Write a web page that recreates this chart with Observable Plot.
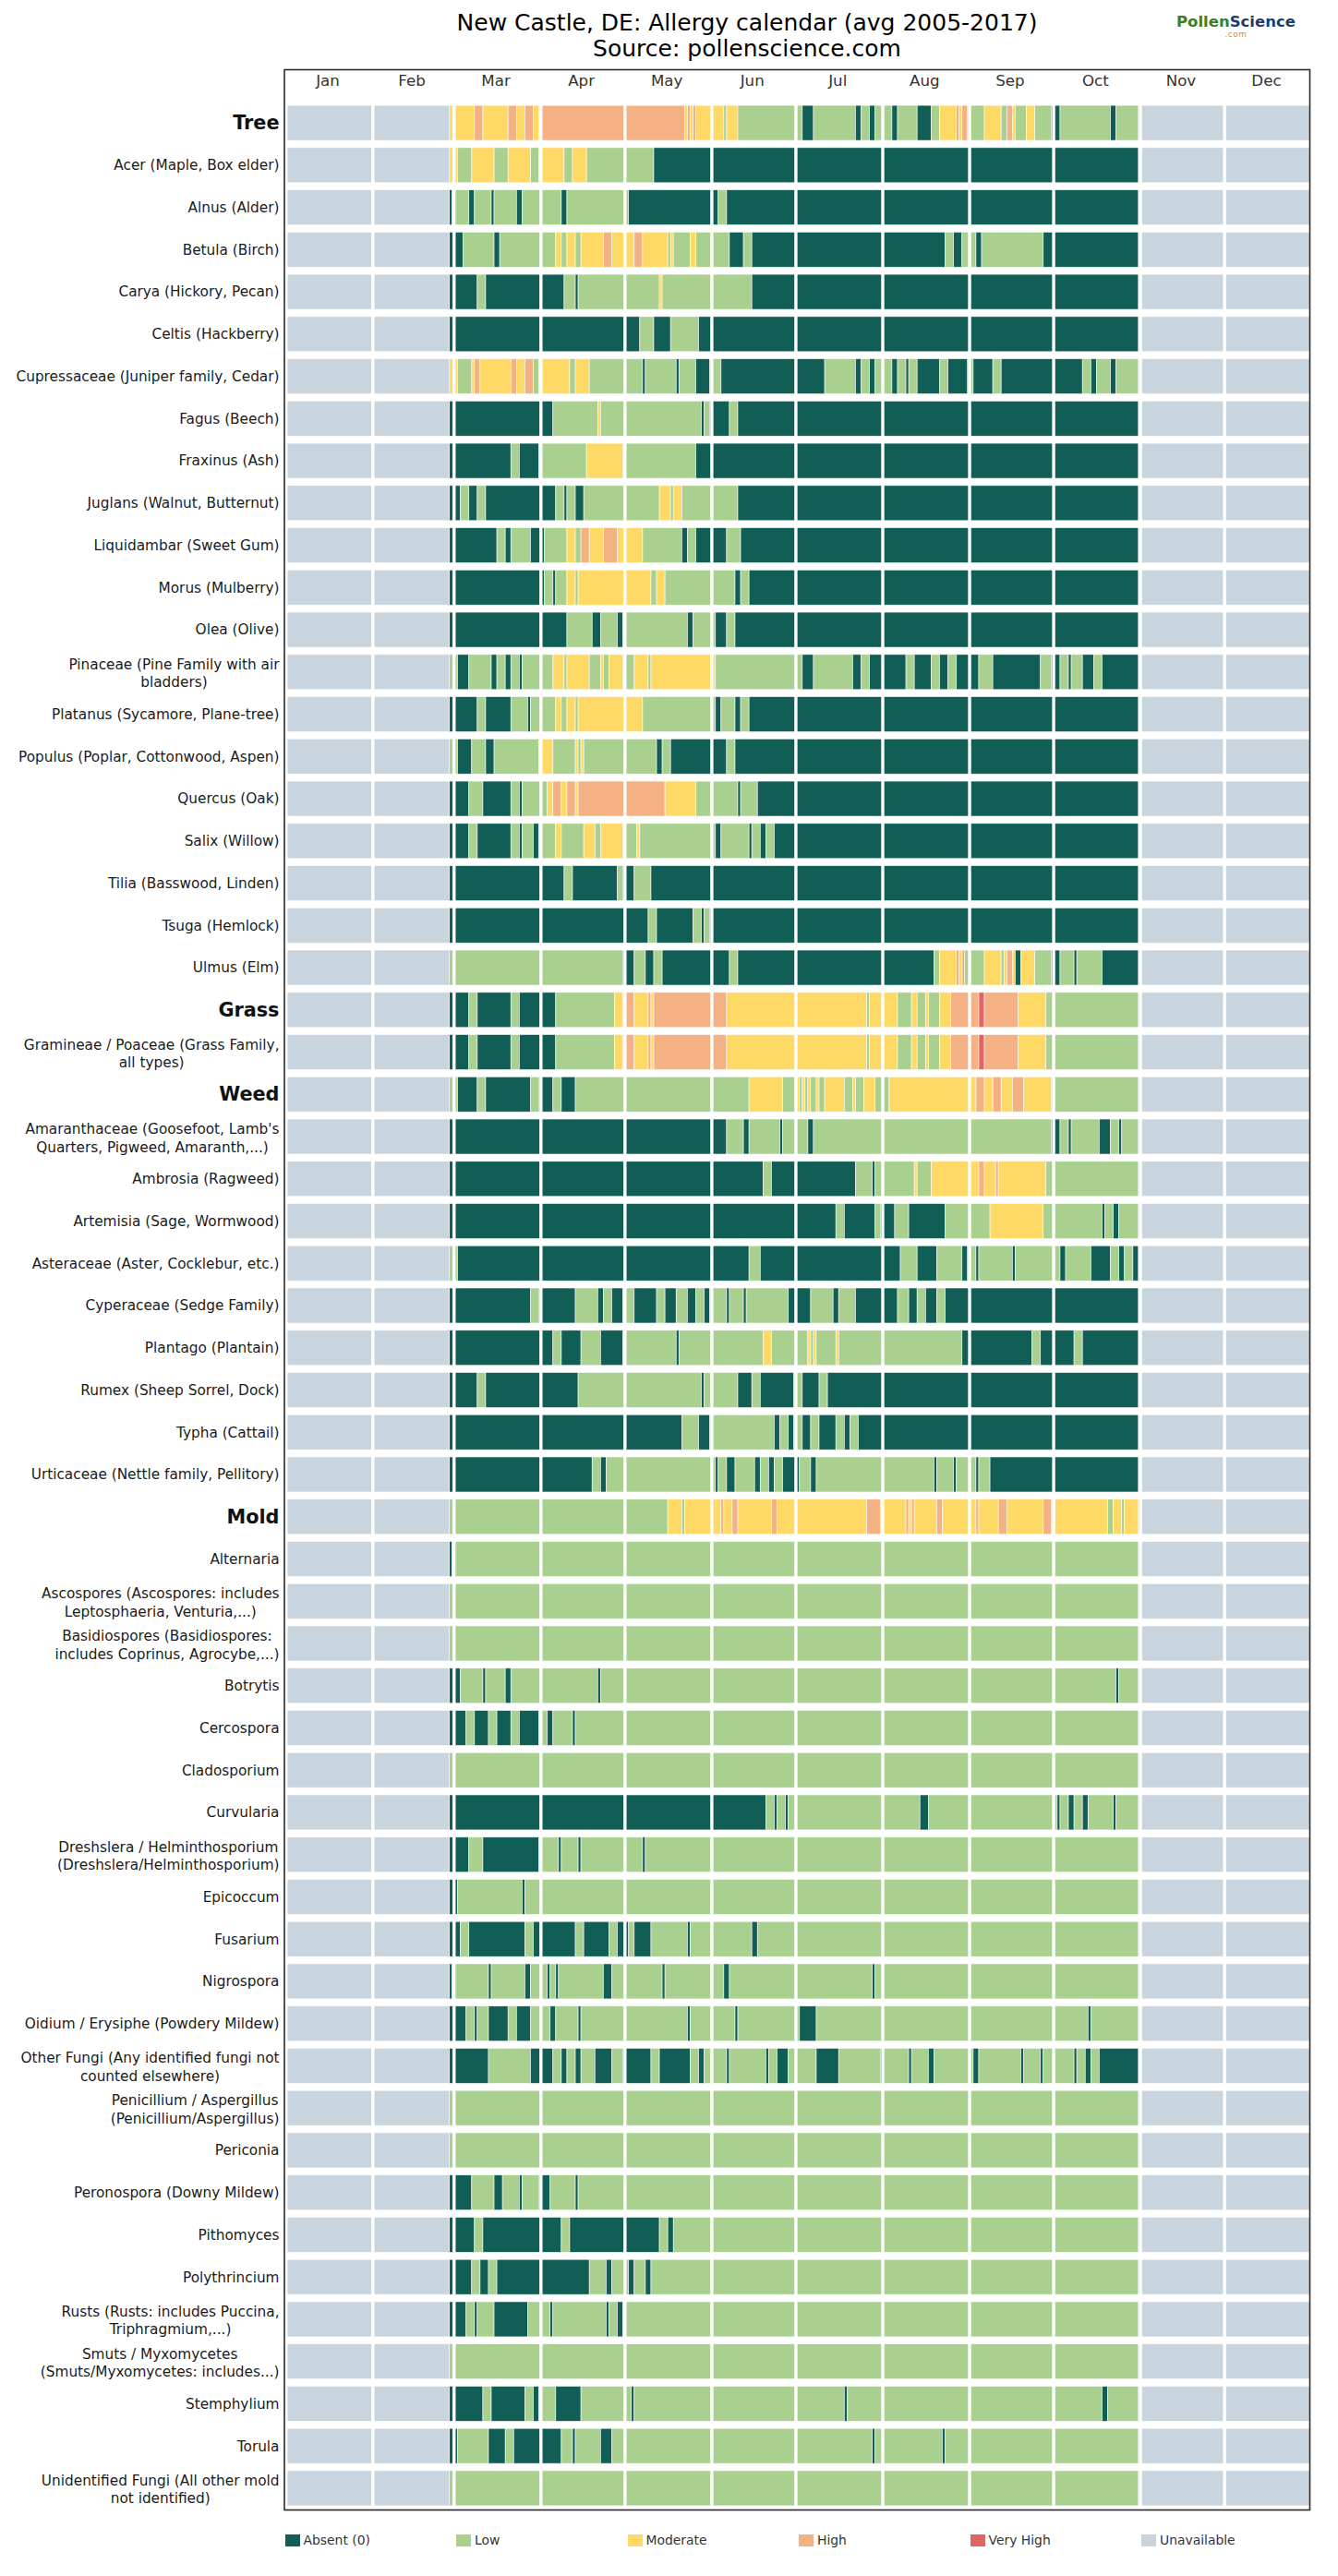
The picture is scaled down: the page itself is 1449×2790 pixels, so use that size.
<!DOCTYPE html>
<html>
<head>
<meta charset="utf-8">
<script src="https://cdn.jsdelivr.net/npm/d3@7"></script>
<script src="https://cdn.jsdelivr.net/npm/@observablehq/plot@0.6"></script>
<style>
  html, body { margin: 0; padding: 0; background: #fff; }
  body { font-family: "DejaVu Sans", sans-serif; }
  #page { position: relative; width: 1449px; height: 2790px; overflow: hidden; background: #fff; }
  #title { position: absolute; left: 809px; top: 11px; transform: translateX(-50%); text-align: center;
           font-size: 25px; line-height: 28px; color: #000; white-space: nowrap; }
  #logo { position: absolute; left: 1274px; top: 14px; font-weight: bold; font-size: 16.5px; line-height: 19px; white-space: nowrap; }
  #logo .dotcom { text-align: center; font-size: 9px; line-height: 9px; color: #e08a1e; font-weight: normal; letter-spacing: 0.5px; }
  #chart { position: absolute; left: 0; top: 66px; }
  #legend { position: absolute; left: 0; top: 2744px; width: 1449px; height: 16px; }
  #legend .item { position: absolute; top: 0; display: flex; align-items: center; height: 14px;
                  font-size: 13.9px; color: #333; white-space: nowrap; }
  #legend .sw { width: 16px; height: 13px; margin-right: 4px; flex: none; }
</style>
</head>
<body>
<div id="page">
  <div id="title">New Castle, DE: Allergy calendar (avg 2005-2017)<br>Source: pollenscience.com</div>
  <div id="logo"><span style="color:#3f7f1c">Pollen</span><span style="color:#1d3d6e">Science</span><div class="dotcom">.com</div></div>
  <div id="chart"></div>
  <div id="legend"></div>
</div>
<script>
// Calendar layout (leap-year calendar, day-of-year from 0)
const monthNames = ["Jan", "Feb", "Mar", "Apr", "May", "Jun", "Jul", "Aug", "Sep", "Oct", "Nov", "Dec"];
const monthStarts = [0, 31, 60, 91, 121, 152, 182, 213, 244, 274, 305, 335, 366];
const seasonEnd = 305;
const unavailableSpans = [[0, 59], [305, 366]];

// Pollen / spore levels
const levelNames = ["Absent (0)", "Low", "Moderate", "High", "Very High", "Unavailable"];
const levelColors = ["#115e57", "#a9d08e", "#ffd966", "#f4b183", "#e06666", "#c8d4de"];

const groupHeaders = ["Tree", "Grass", "Weed", "Mold"];

const categories = [
  "Tree",
  "Acer (Maple, Box elder)",
  "Alnus (Alder)",
  "Betula (Birch)",
  "Carya (Hickory, Pecan)",
  "Celtis (Hackberry)",
  "Cupressaceae (Juniper family, Cedar)",
  "Fagus (Beech)",
  "Fraxinus (Ash)",
  "Juglans (Walnut, Butternut)",
  "Liquidambar (Sweet Gum)",
  "Morus (Mulberry)",
  "Olea (Olive)",
  "Pinaceae (Pine Family with air\nbladders)",
  "Platanus (Sycamore, Plane-tree)",
  "Populus (Poplar, Cottonwood, Aspen)",
  "Quercus (Oak)",
  "Salix (Willow)",
  "Tilia (Basswood, Linden)",
  "Tsuga (Hemlock)",
  "Ulmus (Elm)",
  "Grass",
  "Gramineae / Poaceae (Grass Family,\nall types)",
  "Weed",
  "Amaranthaceae (Goosefoot, Lamb's\nQuarters, Pigweed, Amaranth,...)",
  "Ambrosia (Ragweed)",
  "Artemisia (Sage, Wormwood)",
  "Asteraceae (Aster, Cocklebur, etc.)",
  "Cyperaceae (Sedge Family)",
  "Plantago (Plantain)",
  "Rumex (Sheep Sorrel, Dock)",
  "Typha (Cattail)",
  "Urticaceae (Nettle family, Pellitory)",
  "Mold",
  "Alternaria",
  "Ascospores (Ascospores: includes\nLeptosphaeria, Venturia,...)",
  "Basidiospores (Basidiospores:\nincludes Coprinus, Agrocybe,...)",
  "Botrytis",
  "Cercospora",
  "Cladosporium",
  "Curvularia",
  "Dreshslera / Helminthosporium\n(Dreshslera/Helminthosporium)",
  "Epicoccum",
  "Fusarium",
  "Nigrospora",
  "Oidium / Erysiphe (Powdery Mildew)",
  "Other Fungi (Any identified fungi not\ncounted elsewhere)",
  "Penicillium / Aspergillus\n(Penicillium/Aspergillus)",
  "Periconia",
  "Peronospora (Downy Mildew)",
  "Pithomyces",
  "Polythrincium",
  "Rusts (Rusts: includes Puccina,\nTriphragmium,...)",
  "Smuts / Myxomycetes\n(Smuts/Myxomycetes: includes...)",
  "Stemphylium",
  "Torula",
  "Unidentified Fungi (All other mold\nnot identified)"
];

// Daily levels as runs "startDay:level" (level index into levelNames), each run lasting
// until the next one; the last run ends on Oct 31.
const runs = [
  "59:2 68:3 71:2 80:3 83:2 86:3 89:2 91:3 143:2 144:3 145:2 146:3 147:2 157:1 158:2 162:1 185:0 189:1 204:0 206:1 209:0 211:1 217:0 219:1 226:0 231:1 234:2 240:3 241:2 242:3 244:1 250:2 256:1 258:3 260:2 261:1 265:2 268:1 274:0 277:1 295:0 297:1",
  "59:2 62:1 67:2 75:1 80:2 88:1 91:2 100:1 103:2 108:1 132:0",
  "59:0 60:1 66:0 68:1 74:0 75:1 83:0 85:1 99:0 101:1 123:0 155:1 158:0",
  "59:0 64:1 75:0 77:1 97:2 99:1 101:2 104:1 106:2 114:3 117:2 125:3 128:2 137:1 138:2 139:1 145:2 147:1 159:0 164:1 167:0 236:1 239:0 242:1 247:0 249:1 271:0",
  "59:0 69:1 72:0 100:1 104:0 105:1 134:2 135:1 167:0",
  "59:0 127:1 132:0 138:1 148:0",
  "59:2 62:1 67:2 68:3 70:2 81:3 83:2 86:3 89:1 91:2 102:1 104:2 109:1 128:0 129:1 140:0 141:1 147:0 152:1 156:0 193:1 204:0 206:1 209:0 211:1 217:0 219:1 222:0 223:1 226:0 234:1 237:0 244:1 246:0 253:1 256:0 285:1 288:0 290:1 295:0 297:1",
  "59:0 96:1 112:2 113:1 149:0 150:1 152:0 159:1 162:0",
  "59:0 81:1 84:0 91:1 108:2 121:1 147:0",
  "59:0 63:1 66:0 69:1 72:0 97:1 100:0 101:1 104:0 107:1 134:2 138:1 139:2 142:1 162:0",
  "59:0 76:1 79:0 81:1 88:0 93:1 101:2 104:1 106:3 109:2 114:3 119:2 128:1 142:0 144:1 147:0 158:1 163:0",
  "59:0 93:1 96:0 97:1 101:2 104:1 105:2 131:1 133:2 136:1 161:0 163:1 166:0",
  "59:0 101:1 110:0 113:1 119:0 121:1 144:0 146:1 154:0 158:1 161:0",
  "59:1 62:0 66:1 74:0 76:1 79:0 81:1 84:0 85:1 96:2 100:1 101:2 109:1 113:2 114:1 116:2 121:1 125:2 130:1 131:2 154:1 185:0 189:1 203:0 206:1 209:0 222:1 225:0 231:1 234:0 237:1 240:0 248:1 253:0 270:1 274:0 277:1 280:0 281:1 285:0 289:1 292:0",
  "59:0 69:1 72:0 81:1 87:0 88:1 97:2 99:1 101:2 104:1 105:2 128:1 154:0 156:1 161:0 163:1 166:0",
  "59:1 62:0 67:1 72:0 75:1 91:2 96:1 104:2 105:1 106:2 107:1 133:0 135:1 138:0 158:1 161:0",
  "59:0 66:1 71:0 81:1 84:0 85:1 94:2 96:3 99:2 101:3 104:2 105:3 136:2 147:1 162:0 163:1 169:0",
  "59:0 66:1 69:0 81:1 84:0 85:1 89:0 91:1 97:2 99:1 107:2 111:1 113:2 121:1 126:2 127:1 154:0 156:1 166:0 167:1 170:0 172:1 175:0",
  "59:0 100:1 103:0 119:1 121:0 125:1 131:0",
  "59:0 130:1 133:0 146:1 149:0 150:1 152:0",
  "59:1 121:0 125:1 129:0 132:1 135:0 159:1 162:0 232:1 234:2 240:3 241:2 242:3 243:1 250:2 256:1 257:2 258:3 260:2 261:0 263:2 268:1 274:0 277:1 282:0 283:1 292:0",
  "59:0 66:1 69:0 81:1 84:0 97:1 118:2 121:3 125:2 130:3 131:2 132:3 158:2 208:1 209:2 219:1 224:2 226:1 229:2 230:1 234:2 238:3 248:4 250:3 262:2 272:1",
  "59:0 66:1 69:0 81:1 84:0 97:1 118:2 121:3 125:2 130:3 131:2 132:3 158:2 208:1 209:2 219:1 224:2 226:1 229:2 230:1 234:2 238:3 248:4 250:3 262:2 272:1",
  "59:1 62:0 69:1 72:0 88:1 91:0 96:1 99:0 104:1 166:2 178:1 183:2 184:1 185:2 186:1 187:2 188:1 190:2 191:1 193:2 200:1 203:2 204:1 207:2 211:1 216:2 247:3 250:2 253:3 256:2 260:3 264:2 274:1",
  "59:0 158:1 164:0 166:1 177:0 178:1 187:0 189:1 274:0 277:1 280:0 281:1 291:0 295:1 298:0 299:1",
  "59:0 171:1 174:0 204:1 210:0 211:1 225:2 226:1 231:2 248:3 250:2 254:3 255:2 272:1",
  "59:0 197:1 200:0 211:1 213:0 218:1 223:0 236:1 252:2 271:1 292:0 293:1 296:0 298:1",
  "59:1 62:0 166:1 170:0 220:1 226:0 233:1 242:0 244:1 247:0 248:1 260:0 261:1 277:0 279:1 288:0 295:1 298:0 300:1 303:0",
  "59:0 88:1 91:0 104:1 112:0 114:1 117:0 121:1 125:0 133:1 136:0 140:1 144:0 147:1 150:0 152:1 158:0 159:1 164:0 165:1 180:0 188:1 196:0 198:1 204:0 219:1 223:0 226:1 229:0 233:1 236:0",
  "59:0 96:1 99:0 106:1 113:0 121:1 140:0 141:1 171:2 174:1 187:2 188:1 189:2 190:1 197:2 198:1 242:0 267:1 270:0 282:1 285:0",
  "59:0 69:1 72:0 105:1 149:0 150:1 162:0 167:1 170:0 182:1 185:0 191:1 194:0",
  "59:0 142:1 148:0 152:1 175:0 177:1 180:0 182:1 185:0 188:1 191:0 197:1 200:0 202:1 205:0",
  "59:0 110:1 113:0 115:1 154:0 155:1 158:0 161:1 168:0 170:1 173:0 175:1 178:0 184:1 188:0 190:1 232:0 233:1 239:0 240:1 247:0 248:1 252:0",
  "59:1 137:2 142:1 143:2 156:3 157:2 160:3 162:2 174:3 176:2 208:3 213:2 222:3 223:2 224:3 225:2 233:3 235:2 247:3 248:2 255:3 258:2 271:3 274:2 294:1 296:2 299:1 300:2",
  "59:0 60:1",
  "59:1",
  "59:1",
  "59:0 63:1 71:0 72:1 79:0 81:1 112:0 113:1 297:0 298:1",
  "59:0 65:1 68:0 73:1 76:0 81:1 84:0 91:1 94:0 96:1 103:0 104:1",
  "59:1",
  "59:0 172:1 175:0 176:1 179:0 180:1 227:0 230:1 276:0 277:1 280:0 282:1 285:0 287:1 296:0 297:1",
  "59:0 66:1 71:0 91:1 98:0 99:1 105:0 106:1 128:0 129:1",
  "59:0 62:1 85:0 86:1",
  "59:0 63:1 66:0 86:1 89:0 104:1 107:0 116:1 119:0 123:1 125:0 131:1 144:0 145:1 167:0 169:1",
  "59:0 60:1 73:0 74:1 86:0 88:1 94:0 95:1 97:0 98:1 114:0 117:1 135:0 136:1 157:0 159:1 210:0 211:1",
  "59:0 65:1 68:0 69:1 73:0 80:1 83:0 88:1 95:0 97:1 105:0 106:1 144:0 145:1 161:0 162:1 184:0 190:1 287:0 288:1",
  "59:0 73:1 88:0 96:1 99:0 101:1 104:0 106:1 111:0 117:1 121:0 131:1 134:0 145:1 148:0 150:1 158:0 159:1 172:0 173:1 176:0 180:1 190:0 198:1 213:0 214:1 223:0 224:1 230:0 232:1 246:0 248:1 263:0 264:1 270:0 271:1 282:0 283:1 286:0 288:1 291:0",
  "59:1",
  "59:1",
  "59:0 67:1 75:0 78:1 84:0 85:1 91:0 95:1 104:0 105:1",
  "59:0 68:1 71:0 99:1 102:0 134:1 137:0 139:1",
  "59:0 67:1 70:0 73:1 76:0 109:1 115:0 117:1 123:0 125:1 129:0 131:1",
  "59:0 65:1 68:0 69:1 75:0 87:1 95:0 96:1 115:0 116:1 119:0 121:1",
  "59:1",
  "59:0 71:1 74:0 86:1 89:0 91:1 97:0 106:1 124:0 125:1 200:0 201:1 292:0 294:1",
  "59:0 62:1 73:0 79:1 82:0 99:1 103:0 104:1 113:0 117:1 210:0 211:1 235:0 236:1",
  "59:1"
];

// Expand runs into day-range segments, plus the unavailable parts of the year
const segments = [];
categories.forEach((cat, i) => {
  const pairs = runs[i].trim().split(/\s+/).map(p => p.split(":").map(Number));
  pairs.forEach(([start, level], j) => {
    const end = j + 1 < pairs.length ? pairs[j + 1][0] : seasonEnd;
    segments.push({cat, start, end, level: levelNames[level]});
  });
  unavailableSpans.forEach(([s, e]) => segments.push({cat, start: s, end: e, level: "Unavailable"}));
});

const months = monthNames.map((name, i) => ({name, mid: (monthStarts[i] + monthStarts[i + 1]) / 2}));

// Label measurement for centred two-line labels
const LABEL_SIZE = 15.3;
const ctx = document.createElement("canvas").getContext("2d");
ctx.font = `${LABEL_SIZE}px "DejaVu Sans"`;
const labelWidth = s => Math.max(...s.split("\n").map(line => ctx.measureText(line).width));

const singleLabels = categories.filter(c => !groupHeaders.includes(c) && !c.includes("\n"));
const multiLabels = categories.filter(c => c.includes("\n"));

const PAD = 5.5;
const plot = Plot.plot({
  width: 1449,
  height: 2658,
  marginLeft: 307.5,
  marginRight: 31,
  marginTop: 44,
  marginBottom: 6,
  style: {fontFamily: "DejaVu Sans", fontSize: `${LABEL_SIZE}px`, background: "transparent", overflow: "visible"},
  x: {domain: [0, 366], axis: null},
  y: {domain: categories, paddingInner: 0.17, paddingOuter: 0.09, round: false, axis: null},
  color: {domain: levelNames, range: levelColors},
  marks: [
    Plot.barX(segments, {x1: "start", x2: "end", y: "cat", fill: "level",
      stroke: "white", strokeWidth: 0.7, strokeOpacity: 0.8}),
    // white gap opening every month block
    Plot.ruleX(monthStarts.slice(0, 12), {stroke: "white", strokeWidth: 3.4, dx: 1.7}),
    Plot.text(months, {x: "mid", text: "name", frameAnchor: "top", dy: -23,
      fontSize: 16.7, fill: "#333", textAnchor: "middle", lineAnchor: "middle"}),
    Plot.text(singleLabels, {y: d => d, text: d => d, frameAnchor: "left", textAnchor: "end",
      dx: -PAD, fill: "#1a1a1a"}),
    Plot.text(groupHeaders, {y: d => d, text: d => d, frameAnchor: "left", textAnchor: "end",
      dx: -PAD, fontSize: 20.8, fontWeight: "bold", fill: "#111"}),
    ...multiLabels.map(l => Plot.text([l], {y: d => d, text: d => d, frameAnchor: "left",
      textAnchor: "middle", lineAnchor: "middle", lineHeight: 1.28,
      dx: -PAD - labelWidth(l) / 2, fill: "#1a1a1a"})),
    Plot.frame({stroke: "#2b2b2b", strokeWidth: 1.6, insetTop: -35})
  ]
});
document.getElementById("chart").appendChild(plot);

// Legend row below the chart
const legend = document.getElementById("legend");
levelNames.forEach((name, i) => {
  const item = document.createElement("div");
  item.className = "item";
  item.style.left = (308.5 + i * 185.5) + "px";
  item.innerHTML = `<span class="sw" style="background:${levelColors[i]}"></span><span>${name}</span>`;
  legend.appendChild(item);
});
</script>
</body>
</html>
